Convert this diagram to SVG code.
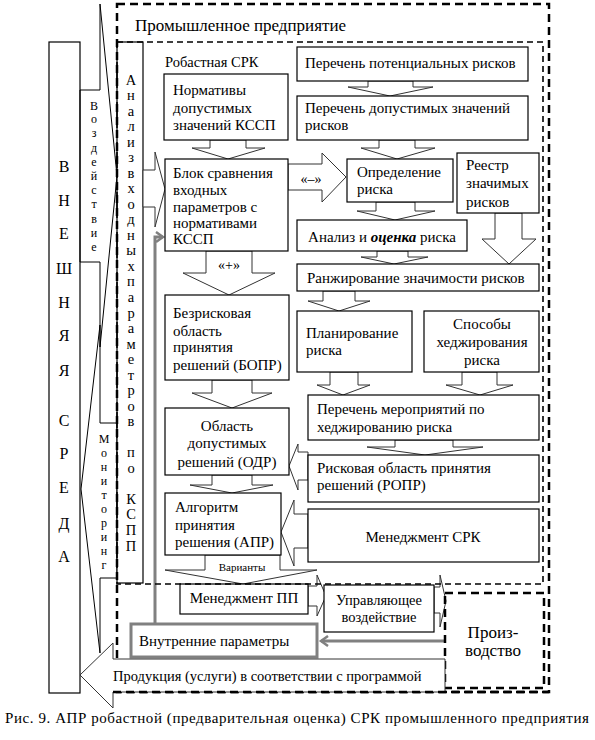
<svg xmlns="http://www.w3.org/2000/svg" width="595" height="740" viewBox="0 0 595 740" font-family="'Liberation Serif', 'DejaVu Serif', serif">
<style>
.box{fill:#fff;stroke:#000;stroke-width:1.2}
.arr{fill:#fff;stroke:#333;stroke-width:1}
.thin{fill:none;stroke:#000;stroke-width:1}
.t{font-family:'Liberation Serif','DejaVu Serif',serif;font-size:15px;fill:#000}
.m{text-anchor:middle}
.gray{fill:none;stroke:#808080;stroke-width:3}
</style>
<defs>
<marker id="gh" markerUnits="userSpaceOnUse" markerWidth="12" markerHeight="12" refX="9" refY="6" orient="auto">
<path d="M2,1 L9,6 L2,11" fill="none" stroke="#808080" stroke-width="2.5"/>
</marker>
</defs>
<rect width="595" height="740" fill="#fff"/>

<g id="vneshnyaya">
<rect class="box" x="49" y="42" width="31" height="651"/>
<text class="t m" style="font-size:16px"><tspan x="64" y="171.5">В</tspan><tspan x="64" y="205.5">Н</tspan><tspan x="64" y="238.5">Е</tspan><tspan x="64" y="273.5">Ш</tspan><tspan x="64" y="307.5">Н</tspan><tspan x="64" y="340.5">Я</tspan><tspan x="64" y="375.5">Я</tspan><tspan x="64" y="425.5">С</tspan><tspan x="64" y="458.5">Р</tspan><tspan x="64" y="492.5">Е</tspan><tspan x="64" y="528.5">Д</tspan><tspan x="64" y="561.5">А</tspan></text>
</g>
<g id="vozdeystvie">
<polygon class="thin" points="80,90 100,90 100,4 117,176 100,347 100,262 80,262"/>
<text class="t m" style="font-size:12px"><tspan x="94" y="109.5">В</tspan><tspan x="94" y="123.2">о</tspan><tspan x="94" y="137.4">з</tspan><tspan x="94" y="151.6">д</tspan><tspan x="94" y="165.8">е</tspan><tspan x="94" y="180">й</tspan><tspan x="94" y="194.2">с</tspan><tspan x="94" y="208.4">т</tspan><tspan x="94" y="222.6">в</tspan><tspan x="94" y="236.8">и</tspan><tspan x="94" y="251">е</tspan></text>
</g>
<g id="monitoring">
<polygon class="thin" points="117,423 100,423 100,325 81,489 100,653 100,578 117,578"/>
<text class="t m" style="font-size:12px"><tspan x="104" y="443">М</tspan><tspan x="104" y="457">о</tspan><tspan x="104" y="471">н</tspan><tspan x="104" y="485">и</tspan><tspan x="104" y="499">т</tspan><tspan x="104" y="513">о</tspan><tspan x="104" y="527">р</tspan><tspan x="104" y="541">и</tspan><tspan x="104" y="555">н</tspan><tspan x="104" y="569">г</tspan></text>
</g>
<g id="analiz-strip">
<rect class="box" x="117" y="42" width="26" height="541"/>
<text class="t m" style="font-size:14.5px"><tspan x="131" y="84.5">А</tspan><tspan x="131" y="100">н</tspan><tspan x="131" y="115.6">а</tspan><tspan x="131" y="131.1">л</tspan><tspan x="131" y="146.6">и</tspan><tspan x="131" y="162.2">з</tspan><tspan x="131" y="177.7">в</tspan><tspan x="131" y="193.2">х</tspan><tspan x="131" y="208.8">о</tspan><tspan x="131" y="224.3">д</tspan><tspan x="131" y="239.8">н</tspan><tspan x="131" y="255.4">ы</tspan><tspan x="131" y="270.9">х</tspan><tspan x="131" y="286.4">п</tspan><tspan x="131" y="302">а</tspan><tspan x="131" y="317.5">р</tspan><tspan x="131" y="333">а</tspan><tspan x="131" y="348.6">м</tspan><tspan x="131" y="364.1">е</tspan><tspan x="131" y="379.6">т</tspan><tspan x="131" y="395.2">р</tspan><tspan x="131" y="410.7">о</tspan><tspan x="131" y="426.2">в</tspan><tspan x="131" y="457.3">п</tspan><tspan x="131" y="472.8">о</tspan><tspan x="131" y="503.9">К</tspan><tspan x="131" y="519.4">С</tspan><tspan x="131" y="535">П</tspan><tspan x="131" y="550.5">П</tspan></text>
</g>

<g id="connectors">
<polygon class="arr" points="368,81 413,81 413,87 433,87 390,96 348,87 368,87"/>
<polygon class="arr" points="210,140 246,140 246,148 265,148 228,159 192,148 210,148"/>
<polygon class="arr" points="379,140 415,140 415,148 435,148 397,159 361,148 379,148"/>
<polygon class="arr" points="376,202 415,202 415,211 435,211 395,220 357,211 376,211"/>
<polygon class="arr" points="495,213 522,213 522,239 536,239 509,264 482,239 495,239"/>
<polygon class="arr" points="377,251 408,251 408,257 428,257 394,264 361,257 377,257"/>
<polygon class="arr" points="206,251 252,251 252,273 275,273 229,295 183,273 206,273"/>
<polygon class="arr" points="323,291 355,291 355,301 370,301 339,311 308,301 323,301"/>
<polygon class="arr" points="212,380 252,380 252,393 272,393 232,408 192,393 212,393"/>
<polygon class="arr" points="330,372 358,372 358,385 370,385 343,395 317,385 330,385"/>
<polygon class="arr" points="462,372 497,372 497,385 513,385 480,395 446,385 462,385"/>
<polygon class="arr" points="395,440 453,440 453,447 483,447 425,455 367,447 395,447"/>
<polygon class="arr" points="212,475 252,475 252,485 273,485 232,493 190,485 212,485"/>
<polygon class="arr" points="205,555 280,555 280,570 317,570 243,584 165,570 205,570"/>
<polygon class="arr" points="143,170 155,170 155,152 165,189 155,227 155,207 143,207"/>
<polygon class="arr" points="288,164 322,164 322,153 346,177 322,202 322,190 288,190"/>
<polygon class="arr" points="308,586 317,586 317,575 326,596 317,616 317,606 308,606"/>
<polygon class="arr" points="434,587 440,587 440,575 446,601 440,627 440,613 434,613"/>
<polygon class="arr" points="308,452 298,452 298,444 289,466 298,490 298,480 308,480"/>
<polygon class="arr" points="308,514 294,514 294,500 281,532 294,566 294,548 308,548"/>
<path class="gray" d="M155,624 V237 H163" marker-end="url(#gh)"/>
<path class="gray" d="M445,641 H321" marker-end="url(#gh)"/>
<text class="t m" x="311" y="184" style="font-size:14px">«–»</text>
<text class="t m" x="229" y="270" style="font-size:14px">«+»</text>
<text class="t m" x="242" y="571" style="font-size:11px">Варианты</text>
</g>

<g id="normativy"><rect class="box" x="164" y="74" width="124" height="66"/>
<text class="t"><tspan x="173" y="95">Нормативы</tspan><tspan x="173" y="113">допустимых</tspan><tspan x="173" y="130">значений КССП</tspan></text></g>
<g id="perechen-pot"><rect class="box" x="297" y="47" width="231" height="34"/>
<text class="t" x="305" y="68">Перечень потенциальных рисков</text></g>
<g id="perechen-dop"><rect class="box" x="297" y="96" width="231" height="44"/>
<text class="t"><tspan x="305" y="113">Перечень допустимых значений</tspan><tspan x="305" y="130">рисков</tspan></text></g>
<g id="blok"><rect class="box" x="165" y="159" width="123" height="92"/>
<text class="t"><tspan x="173" y="178">Блок сравнения</tspan><tspan x="173" y="195">входных</tspan><tspan x="173" y="212">параметров с</tspan><tspan x="173" y="228">нормативами</tspan><tspan x="173" y="244">КССП</tspan></text></g>
<g id="opredelenie"><rect class="box" x="347" y="159" width="106" height="43"/>
<text class="t"><tspan x="357" y="177">Определение</tspan><tspan x="357" y="194">риска</tspan></text></g>
<g id="reestr"><rect class="box" x="457" y="153" width="82" height="60"/>
<text class="t"><tspan x="466" y="170">Реестр</tspan><tspan x="466" y="188">значимых</tspan><tspan x="466" y="207">рисков</tspan></text></g>
<g id="analiz-ocenka"><rect class="box" x="297" y="220" width="170" height="31"/>
<text class="t m" x="382" y="242">Анализ и <tspan font-weight="bold" font-style="italic">оценка</tspan> риска</text></g>
<g id="ranzhirovanie"><rect class="box" x="297" y="264" width="242" height="27"/>
<text class="t" x="307" y="283">Ранжирование значимости рисков</text></g>
<g id="bopr"><rect class="box" x="165" y="295" width="124" height="85"/>
<text class="t"><tspan x="173" y="318">Безрисковая</tspan><tspan x="173" y="336">область</tspan><tspan x="173" y="352">принятия</tspan><tspan x="173" y="370">решений (БОПР)</tspan></text></g>
<g id="planirovanie"><rect class="box" x="297" y="311" width="115" height="61"/>
<text class="t"><tspan x="306" y="338">Планирование</tspan><tspan x="306" y="355">риска</tspan></text></g>
<g id="sposoby"><rect class="box" x="424" y="311" width="115" height="61"/>
<text class="t m"><tspan x="482" y="329">Способы</tspan><tspan x="482" y="347">хеджирования</tspan><tspan x="482" y="365">риска</tspan></text></g>
<g id="perechen-mer"><rect class="box" x="308" y="395" width="231" height="45"/>
<text class="t"><tspan x="317" y="414">Перечень мероприятий по</tspan><tspan x="317" y="432">хеджированию риска</tspan></text></g>
<g id="odr"><rect class="box" x="165" y="408" width="124" height="67"/>
<text class="t m"><tspan x="227" y="431">Область</tspan><tspan x="227" y="448">допустимых</tspan><tspan x="227" y="467">решений (ОДР)</tspan></text></g>
<g id="ropr"><rect class="box" x="308" y="455" width="231" height="47"/>
<text class="t"><tspan x="317" y="473">Рисковая область принятия</tspan><tspan x="317" y="490">решений (РОПР)</tspan></text></g>
<g id="apr"><rect class="box" x="165" y="493" width="116" height="62"/>
<text class="t"><tspan x="175" y="512">Алгоритм</tspan><tspan x="175" y="530">принятия</tspan><tspan x="175" y="547">решения (АПР)</tspan></text></g>
<g id="menedzhment-srk"><rect class="box" x="308" y="509" width="231" height="53"/>
<text class="t m" x="423" y="542">Менеджмент СРК</text></g>
<g id="menedzhment-pp"><rect class="box" x="180" y="584" width="128" height="30"/>
<text class="t m" x="244" y="603">Менеджмент ПП</text></g>
<g id="upravlyayushchee"><rect class="box" x="324" y="585" width="110" height="47"/>
<text class="t m" style="font-size:14.5px"><tspan x="379" y="605">Управляющее</tspan><tspan x="379" y="622">воздействие</tspan></text></g>
<g id="vnutrennie"><rect x="131" y="624" width="186" height="33" fill="#fff" stroke="#808080" stroke-width="3"/>
<text class="t" x="139" y="646">Внутренние параметры</text></g>

<g id="robust-srk">
<rect x="117" y="42" width="426" height="542" fill="none" stroke="#000" stroke-width="1.6" stroke-dasharray="6,4"/>
<text class="t" x="165" y="67" style="font-size:14.5px">Робастная СРК</text>
</g>
<g id="predpriyatie">
<rect x="117" y="4" width="432" height="688" fill="none" stroke="#000" stroke-width="2.5" stroke-dasharray="8,5"/>
<text class="t" x="135" y="31" style="font-size:17px">Промышленное предприятие</text>
</g>

<g id="proizvodstvo"><rect x="445" y="593" width="99" height="95" fill="none" stroke="#000" stroke-width="2.5" stroke-dasharray="8,5"/>
<text class="t m" style="font-size:17px"><tspan x="493" y="638">Произ-</tspan><tspan x="493" y="656">водство</tspan></text></g>

<g id="produktsiya">
<polygon class="arr" points="445,659 113,659 113,643 80,675 113,708 113,692 445,692"/>
<line x1="113" y1="692" x2="549" y2="692" stroke="#000" stroke-width="2.5" stroke-dasharray="8,5"/>
<text class="t" x="113" y="681" style="font-size:14.5px">Продукция (услуги) в соответствии с программой</text>
</g>

<text class="t" x="5" y="723" textLength="584" lengthAdjust="spacing">Рис. 9. АПР робастной (предварительная оценка) СРК промышленного предприятия</text>
</svg>
